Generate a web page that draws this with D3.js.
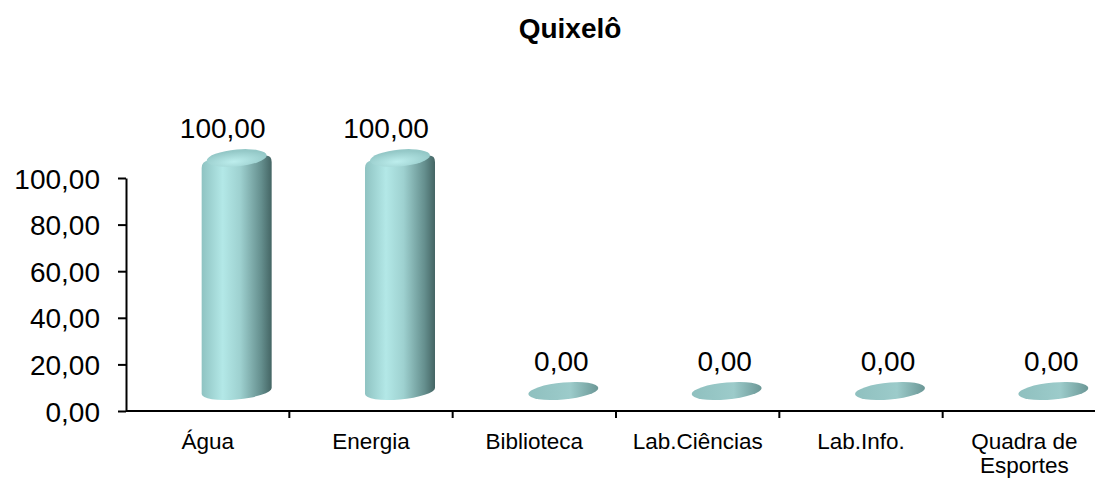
<!DOCTYPE html>
<html>
<head>
<meta charset="utf-8">
<script src="https://cdn.jsdelivr.net/npm/d3@7"></script>
<style>
  body { margin: 0; background: #fff; }
  svg { display: block; font-family: "Liberation Sans", Arial, sans-serif; }
</style>
</head>
<body>
<div id="chart"></div>
<script>
// chart data
const title = 'Quixelô';
const categories = ['Água', 'Energia', 'Biblioteca', 'Lab.Ciências', 'Lab.Info.', 'Quadra de Esportes'];
const values = [100, 100, 0, 0, 0, 0];
const yTicks = [0, 20, 40, 60, 80, 100];

const width = 1095;
const height = 478;
const margin = { top: 178, right: -11, bottom: 67, left: 126 };

// 3d depth offset of the cylinders vs. the axis plane
const depth = { dx: 29, dy: -20 };
const rx = 35;
const ry = 8.5;
const tilt = -5;
const dome = 7;

const fmt = (v) => d3.format('.2f')(v).replace('.', ',');

const svg = d3.select('#chart').append('svg')
  .attr('width', width)
  .attr('height', height);

const defs = svg.append('defs');

const body = defs.append('linearGradient').attr('id', 'cylBody')
  .attr('x1', '0%').attr('x2', '100%').attr('y1', '0%').attr('y2', '0%');
body.append('stop').attr('offset', '0%').attr('stop-color', '#8fc3c2');
body.append('stop').attr('offset', '30%').attr('stop-color', '#b3e8e7');
body.append('stop').attr('offset', '55%').attr('stop-color', '#9ed1d0');
body.append('stop').attr('offset', '85%').attr('stop-color', '#658f8e');
body.append('stop').attr('offset', '100%').attr('stop-color', '#446564');

const cap = defs.append('radialGradient').attr('id', 'cylTop')
  .attr('cx', '45%').attr('cy', '70%').attr('r', '60%');
cap.append('stop').attr('offset', '0%').attr('stop-color', '#bdeeed');
cap.append('stop').attr('offset', '100%').attr('stop-color', '#94c8c7');

const disc = defs.append('linearGradient').attr('id', 'disc')
  .attr('x1', '0%').attr('x2', '100%').attr('y1', '0%').attr('y2', '0%');
disc.append('stop').attr('offset', '0%').attr('stop-color', '#8fc0bf');
disc.append('stop').attr('offset', '60%').attr('stop-color', '#9ccbca');
disc.append('stop').attr('offset', '100%').attr('stop-color', '#6b9796');

const innerW = width - margin.left - margin.right;
const innerH = height - margin.top - margin.bottom;

const x = d3.scaleBand()
  .domain(categories)
  .range([margin.left, margin.left + innerW])
  .paddingInner(0)
  .paddingOuter(0);

const y = d3.scaleLinear()
  .domain([0, 100])
  .range([margin.top + innerH, margin.top]);

// title
svg.append('text')
  .attr('x', 570)
  .attr('y', 38)
  .attr('text-anchor', 'middle')
  .style('font-size', '28px')
  .style('font-weight', 'bold')
  .text(title);

// y axis
const yAxis = d3.axisLeft(y)
  .tickValues(yTicks)
  .tickSize(8)
  .tickSizeOuter(0)
  .tickPadding(18)
  .tickFormat(fmt);

svg.append('g')
  .attr('transform', `translate(${margin.left},0)`)
  .call(yAxis)
  .call((g) => g.selectAll('path, line').attr('stroke', '#000').attr('stroke-width', 2))
  .call((g) => g.selectAll('text')
    .attr('fill', '#000')
    .style('font-size', '28px')
    .attr('dy', '0.36em'));

// x axis with ticks at band edges
const xg = svg.append('g')
  .attr('transform', `translate(0,${y(0)})`);

xg.append('line')
  .attr('x1', margin.left)
  .attr('x2', margin.left + innerW)
  .attr('stroke', '#000')
  .attr('stroke-width', 2);

xg.selectAll('.edge')
  .data(categories.slice(1))
  .join('line')
  .attr('class', 'edge')
  .attr('x1', (d) => x(d))
  .attr('x2', (d) => x(d))
  .attr('y1', 0)
  .attr('y2', 7)
  .attr('stroke', '#000')
  .attr('stroke-width', 2);

const catLabels = xg.selectAll('.cat')
  .data(categories)
  .join('text')
  .attr('class', 'cat')
  .attr('text-anchor', 'middle')
  .attr('x', (d) => x(d) + x.bandwidth() / 2)
  .attr('y', 38)
  .style('font-size', '22.5px');

// simple word wrap inside a band
catLabels.each(function (d) {
  const t = d3.select(this);
  const words = d.split(' ');
  const cx = x(d) + x.bandwidth() / 2;
  let line = [];
  let tspan = t.append('tspan').attr('x', cx);
  words.forEach((w) => {
    line.push(w);
    tspan.text(line.join(' '));
    if (tspan.node().getComputedTextLength() > x.bandwidth() - 10 && line.length > 1) {
      line.pop();
      tspan.text(line.join(' '));
      line = [w];
      tspan = t.append('tspan').attr('x', cx).attr('dy', '1.08em').text(w);
    }
  });
});

// cylinders
const bars = svg.append('g').selectAll('.bar')
  .data(categories.map((c, i) => ({ c, v: values[i] })))
  .join('g')
  .attr('class', 'bar')
  .attr('transform', (d) => {
    const cx = x(d.c) + x.bandwidth() / 2 + depth.dx;
    const cy = y(0) + depth.dy;
    return `translate(${cx},${cy}) skewY(${tilt})`;
  });

bars.each(function (d) {
  const g = d3.select(this);
  const h = y(0) - y(d.v);
  if (h < 1) {
    g.append('ellipse')
      .attr('rx', rx)
      .attr('ry', ry)
      .attr('fill', 'url(#disc)');
    return;
  }
  // body with softly rounded shoulders
  g.append('path')
    .attr('d', `M${-rx},${-h + dome} L${-rx},0 A${rx},${ry} 0 0 0 ${rx},0 L${rx},${-h + dome}`
      + ` Q${rx},${-h} ${rx - dome},${-h} L${-rx + dome},${-h} Q${-rx},${-h} ${-rx},${-h + dome} Z`)
    .attr('fill', 'url(#cylBody)');
  g.append('ellipse')
    .attr('cy', -h)
    .attr('rx', rx - dome + 2)
    .attr('ry', ry)
    .attr('fill', 'url(#cylTop)');
});

// value labels
svg.append('g').selectAll('.val')
  .data(categories.map((c, i) => ({ c, v: values[i] })))
  .join('text')
  .attr('class', 'val')
  .attr('text-anchor', 'middle')
  .attr('x', (d) => x(d.c) + x.bandwidth() / 2 + 27 - 0.12 * d.v)
  .attr('y', (d) => y(d.v) + depth.dy - 20)
  .style('font-size', '28px')
  .text((d) => fmt(d.v));
</script>
</body>
</html>
